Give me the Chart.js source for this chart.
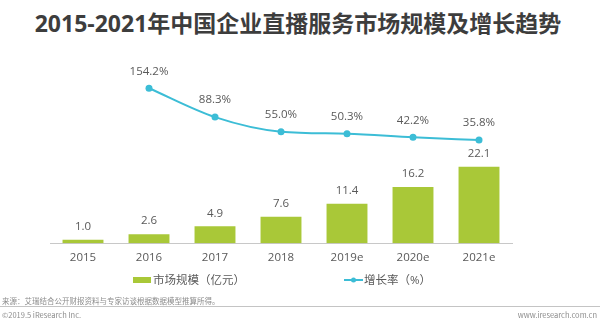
<!DOCTYPE html>
<html>
<head>
<meta charset="utf-8">
<script src="https://cdn.jsdelivr.net/npm/chart.js@4/dist/chart.umd.min.js"></script>
<style>
    html, body { margin: 0; padding: 0; background: #fff; }
    #wrap { position: relative; width: 600px; height: 329px; overflow: hidden; }
    #title {
        position: absolute; left: 0; top: 9px; width: 596px; text-align: center;
        font: 700 23px 'Open Sans', 'Noto Sans CJK SC', sans-serif; color: #3d3d3d;
        line-height: 28px; white-space: nowrap;
    }
    #chart { position: absolute; left: 0; top: 0; }
    .foot { position: absolute; font: 7.5px 'Noto Sans CJK SC', 'Open Sans', sans-serif; color: #8c8c8c; white-space: nowrap; }
    #source { left: 2px; top: 295px; }
    #rule { position: absolute; left: 0; top: 306px; width: 600px; height: 1px; background: #c4c4c4; }
    #copy { left: 2px; top: 309px; }
    #site { right: 3px; top: 309px; }
</style>
</head>
<body>
<div id="wrap">
    <div id="title">2015-2021年中国企业直播服务市场规模及增长趋势</div>
    <canvas id="chart" width="600" height="300"></canvas>
    <div class="foot" id="source">来源：艾瑞结合公开财报资料与专家访谈根据数据模型推算所得。</div>
    <div id="rule"></div>
    <div class="foot" id="copy">©2019.5 iResearch Inc.</div>
    <div class="foot" id="site">www.iresearch.com.cn</div>
</div>
<script>
    'use strict';

    var YEARS = ['2015', '2016', '2017', '2018', '2019e', '2020e', '2021e'];
    var MARKET_SIZE = [1.0, 2.6, 4.9, 7.6, 11.4, 16.2, 22.1];     // 亿元
    var GROWTH_RATE = [null, 154.2, 88.3, 55.0, 50.3, 42.2, 35.8]; // %

    var GREEN = '#a9c838';
    var CYAN = '#3cbdd6';
    var TEXT = '#595959';
    var FONT = "'Open Sans', 'Noto Sans CJK SC', sans-serif";

    // value labels above every bar and point
    var valueLabels = {
        id: 'valueLabels',
        afterDatasetsDraw: function (chart) {
            var ctx = chart.ctx;
            ctx.save();
            ctx.font = '11.5px ' + FONT;
            ctx.fillStyle = TEXT;
            ctx.textAlign = 'center';
            ctx.textBaseline = 'middle';
            chart.data.datasets.forEach(function (ds, i) {
                var meta = chart.getDatasetMeta(i);
                meta.data.forEach(function (el, j) {
                    var v = ds.data[j];
                    if (v === null) return;
                    if (ds.type === 'line') {
                        ctx.fillText(v.toFixed(1) + '%', el.x, el.y - 17);
                    } else {
                        ctx.fillText(v.toFixed(1), el.x, el.y - 13);
                    }
                });
            });
            ctx.restore();
        }
    };

    // legend row under the axis: bar swatch first, then line-with-dot swatch
    var legendRow = {
        id: 'legendRow',
        afterDraw: function (chart) {
            var ctx = chart.ctx;
            var y = 280;
            var sets = chart.data.datasets;
            var bar = sets.filter(function (d) { return d.type === 'bar'; })[0];
            var line = sets.filter(function (d) { return d.type === 'line'; })[0];
            var items = [{ x: 133, ds: bar }, { x: 344, ds: line }];
            ctx.save();
            ctx.font = '11.5px ' + FONT;
            ctx.textBaseline = 'middle';
            ctx.textAlign = 'left';
            items.forEach(function (it) {
                if (it.ds.type === 'line') {
                    ctx.strokeStyle = it.ds.borderColor;
                    ctx.lineWidth = 2;
                    ctx.beginPath();
                    ctx.moveTo(it.x, y);
                    ctx.lineTo(it.x + 19, y);
                    ctx.stroke();
                    ctx.fillStyle = it.ds.borderColor;
                    ctx.beginPath();
                    ctx.arc(it.x + 9.5, y, 2.5, 0, Math.PI * 2);
                    ctx.fill();
                } else {
                    ctx.fillStyle = it.ds.backgroundColor;
                    ctx.fillRect(it.x, y - 3, 18, 6);
                }
                ctx.fillStyle = TEXT;
                ctx.fillText(it.ds.label, it.x + 20, y + 0.5);
            });
            ctx.restore();
        }
    };

    new Chart(document.getElementById('chart').getContext('2d'), {
        data: {
            labels: YEARS,
            datasets: [{
                type: 'line',
                label: '增长率（%）',
                data: GROWTH_RATE,
                yAxisID: 'yRate',
                borderColor: CYAN,
                backgroundColor: CYAN,
                borderWidth: 2,
                pointRadius: 3.5,
                pointBackgroundColor: CYAN,
                pointBorderWidth: 0,
                cubicInterpolationMode: 'monotone',
                order: 0
            }, {
                type: 'bar',
                label: '市场规模（亿元）',
                data: MARKET_SIZE,
                yAxisID: 'ySize',
                backgroundColor: GREEN,
                barPercentage: 0.62,
                categoryPercentage: 1,
                order: 1
            }]
        },
        options: {
            responsive: false,
            animation: false,
            devicePixelRatio: 1,
            layout: { padding: { left: 50, right: 88, top: 70, bottom: 27 } },
            plugins: {
                legend: { display: false },
                tooltip: { enabled: false }
            },
            scales: {
                x: {
                    grid: { display: false, drawTicks: false },
                    border: { display: true, color: '#c8c8c8', width: 1 },
                    ticks: { color: TEXT, font: { family: FONT, size: 11.5 }, padding: 8 }
                },
                ySize: { display: false, min: 0, max: 50 },
                yRate: { display: false, min: -200, max: 196 }
            }
        },
        plugins: [valueLabels, legendRow]
    });
</script>
</body>
</html>
